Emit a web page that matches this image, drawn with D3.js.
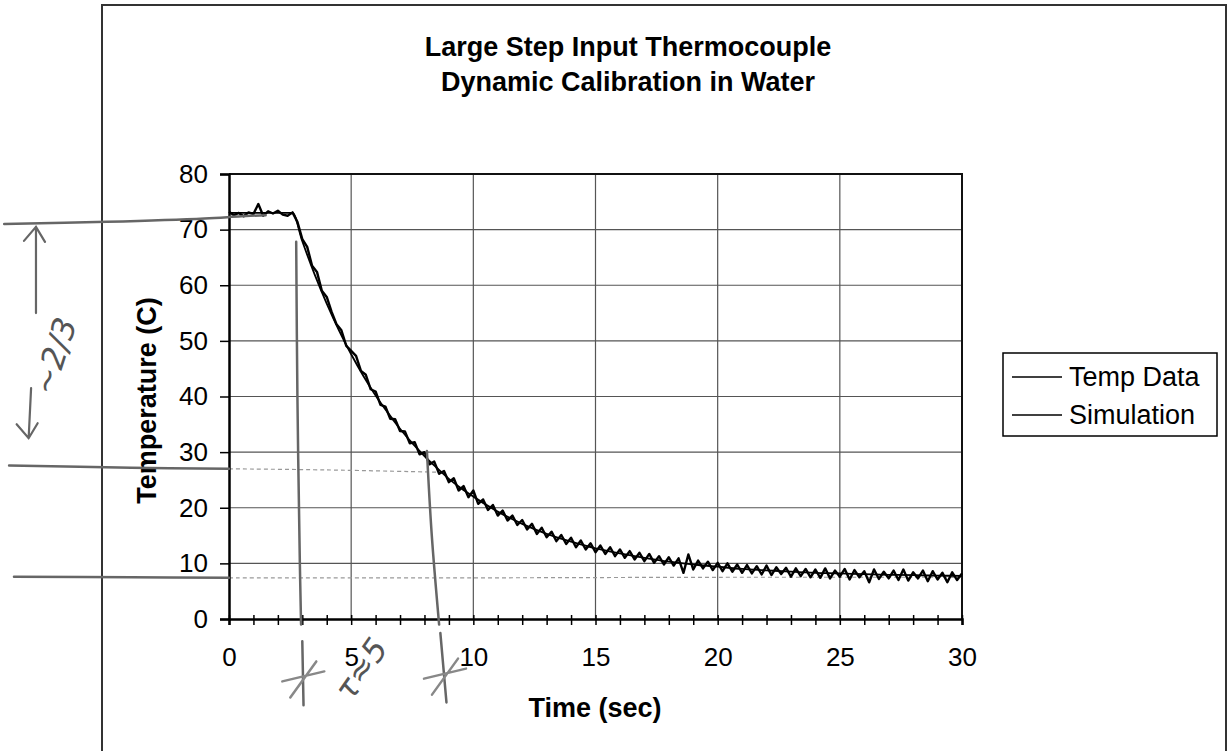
<!DOCTYPE html>
<html>
<head>
<meta charset="utf-8">
<script src="https://cdnjs.cloudflare.com/ajax/libs/d3/7.8.5/d3.min.js"></script>
<style>
  body { margin: 0; background: #fff; }
  svg { display: block; font-family: Arial, "Liberation Sans", sans-serif; }
</style>
</head>
<body>
<div id="chart"></div>
<script>
//Chart text and ticks
let titleLines = ["Large Step Input Thermocouple", "Dynamic Calibration in Water"];
let xLabel = "Time (sec)";
let yLabel = "Temperature (C)";
let xTicks = [0, 5, 10, 15, 20, 25, 30];
let yTicks = [0, 10, 20, 30, 40, 50, 60, 70, 80];
let seriesNames = ["Temp Data", "Simulation"];

//Measured temperature, one sample every 0.2 s from t = 0
let sampleStep = 0.2;
let tempData = [
  73.2, 72.6, 73.0, 72.4, 73.1, 72.8, 74.6, 72.5, 73.3, 72.9,
  73.4, 72.7, 72.5, 73.1, 71.4, 68.3, 66.9, 63.5, 62.4, 59.0,
  57.9, 55.2, 53.0, 51.9, 49.1, 48.2, 47.3, 44.6, 43.9, 41.3,
  40.9, 38.5, 38.2, 36.0, 35.9, 33.8, 33.7, 31.6, 31.8, 29.6,
  30.0, 27.8, 28.3, 26.1, 26.6, 24.6, 25.3, 23.1, 23.9, 21.9,
  23.1, 20.7, 21.5, 19.6, 20.5, 18.6, 19.5, 17.7, 18.6, 16.9,
  17.8, 16.1, 17.1, 15.3, 16.4, 14.7, 15.7, 14.0, 15.1, 13.5,
  14.6, 12.9, 14.1, 12.5, 13.6, 12.0, 13.2, 11.7, 12.9, 11.3,
  12.5, 11.0, 12.2, 10.7, 11.9, 10.4, 11.7, 10.1, 11.3, 9.8,
  11.1, 9.6, 10.9, 8.3, 11.6, 8.9, 10.5, 9.1, 10.3, 8.8,
  10.1, 8.6, 10.0, 8.5, 9.8, 8.3, 9.7, 8.2, 9.5, 8.0,
  9.6, 7.9, 9.3, 8.1, 9.2, 7.6, 9.1, 7.7, 9.0, 7.5,
  8.9, 7.4, 9.1, 7.3, 8.7, 7.6, 9.0, 7.1, 8.8, 7.5,
  8.6, 6.6, 8.9, 7.2, 8.5, 7.3, 8.7, 7.0, 8.9, 6.9,
  8.4, 7.3, 8.7, 6.8, 8.6, 7.1, 8.3, 6.6, 8.4, 7.0,
  8.2
];

//Simulated first order response
let simTime = [0, 1, 2, 2.6, 3.0, 3.5, 4.0, 4.5, 5.0, 5.5, 6.0, 6.5, 7.0, 7.5, 8.0, 8.5, 9.0, 9.5, 10,
  11, 12, 13, 14, 15, 16, 17, 18, 19, 20, 21, 22, 23, 24, 25, 26, 27, 28, 29, 30];
let simTemp = [73, 73, 73, 73, 67.9, 62.0, 56.7, 51.9, 47.6, 43.7, 40.2, 37.1, 34.2, 31.6, 29.3, 27.2, 25.2, 23.5, 22.0,
  19.3, 17.1, 15.3, 13.9, 12.7, 11.8, 11.0, 10.3, 9.8, 9.4, 9.0, 8.75, 8.5, 8.3, 8.2, 8.05, 7.95, 7.87, 7.8, 7.75];

//Pencil marks on the scan, in chart units [time, temperature]
let pencilLines = [
  [[-9.2, 71.0], [-5, 71.4], [-1, 72.0], [0.5, 72.4], [1.5, 72.6]],
  [[-9.0, 27.6], [-4, 27.2], [0, 27.0]],
  [[-8.8, 7.6], [-4, 7.5], [0, 7.4]],
  [[2.75, 67.8], [2.8, 40], [2.9, 10], [2.95, -1]],
  [[3.0, -4], [3.05, -15.5]],
  [[8.1, 30.2], [8.3, 15], [8.6, -1]],
  [[8.65, -2.5], [8.9, -15]]
];
let faintLines = [
  [[0, 27.0], [4, 26.8], [8.5, 26.4]],
  [[0, 7.4], [10, 7.4], [20, 7.5], [30, 7.5]]
];
let pencilCrosses = [[3.0, -10.5], [8.8, -10.0]];
let pencilArrows = [
  [[-7.9, 55.0], [-7.9, 70.5]],
  [[-8.1, 41.5], [-8.2, 32.5]]
];

//Canvas and plot area
let width = 1227, height = 751;
let plot = {left: 229, right: 962, top: 174, bottom: 619};

let svg = d3.select("#chart").append("svg")
  .attr("width", width)
  .attr("height", height);

let x = d3.scaleLinear().domain([0, 30]).range([plot.left, plot.right]);
let y = d3.scaleLinear().domain([0, 80]).range([plot.bottom, plot.top]);

//Outer chart frame
svg.append("rect")
  .attr("x", 102).attr("y", 5)
  .attr("width", 1124).attr("height", 780)
  .attr("fill", "none")
  .attr("stroke", "#333")
  .attr("stroke-width", 2);

//Title
svg.append("text")
  .attr("x", 628).attr("y", 56)
  .attr("text-anchor", "middle")
  .attr("font-size", 27).attr("font-weight", "bold")
  .selectAll("tspan")
  .data(titleLines)
  .enter()
  .append("tspan")
    .attr("x", 628)
    .attr("dy", function(d, i) { return i == 0 ? 0 : 35; })
    .text(function(d) { return d; });

//Gridlines
svg.selectAll(".vgrid")
  .data(xTicks.slice(1, -1))
  .enter()
  .append("line")
    .attr("class", "vgrid")
    .attr("x1", function(d) { return x(d); }).attr("x2", function(d) { return x(d); })
    .attr("y1", plot.top).attr("y2", plot.bottom)
    .attr("stroke", "#555").attr("stroke-width", 1.2);

svg.selectAll(".hgrid")
  .data(yTicks.slice(1, -1))
  .enter()
  .append("line")
    .attr("class", "hgrid")
    .attr("x1", plot.left).attr("x2", plot.right)
    .attr("y1", function(d) { return y(d); }).attr("y2", function(d) { return y(d); })
    .attr("stroke", "#555").attr("stroke-width", 1.2);

//Top and right border of plot area
svg.append("path")
  .attr("d", "M" + plot.left + "," + plot.top + "H" + plot.right + "V" + plot.bottom)
  .attr("fill", "none")
  .attr("stroke", "#111")
  .attr("stroke-width", 2);

//Faint pencil lines under the data
let pencil = d3.line()
  .x(function(d) { return x(d[0]); })
  .y(function(d) { return y(d[1]); })
  .curve(d3.curveCatmullRom);

svg.selectAll(".faint")
  .data(faintLines)
  .enter()
  .append("path")
    .attr("class", "faint")
    .attr("d", pencil)
    .attr("fill", "none")
    .attr("stroke", "#999")
    .attr("stroke-width", 1.2)
    .attr("stroke-dasharray", "4,3");

//Y axis
let yAxis = svg.append("g")
  .attr("transform", "translate(" + plot.left + ",0)")
  .call(d3.axisLeft(y).tickValues(yTicks).tickSize(9).tickPadding(12));
yAxis.select(".domain").attr("stroke", "#000").attr("stroke-width", 2.5);
yAxis.selectAll(".tick line").attr("stroke", "#000").attr("stroke-width", 1.5);
yAxis.selectAll(".tick text")
  .attr("font-size", 26)
  .attr("font-family", "Arial, 'Liberation Sans', sans-serif")
  .attr("fill", "#000");

//X axis: one small cross tick per second
let xMinor = svg.append("g")
  .attr("transform", "translate(0," + plot.bottom + ")")
  .call(d3.axisBottom(x).tickValues(d3.range(0, 31, 1)).tickSize(6).tickFormat(""));
xMinor.select(".domain").attr("stroke", "#000").attr("stroke-width", 2.5);
xMinor.selectAll(".tick line").attr("y1", -4).attr("stroke", "#000").attr("stroke-width", 1.5);

let xAxis = svg.append("g")
  .attr("transform", "translate(0," + plot.bottom + ")")
  .call(d3.axisBottom(x).tickValues(xTicks).tickSize(0).tickPadding(29));
xAxis.select(".domain").remove();
xAxis.selectAll(".tick text")
  .attr("font-size", 26)
  .attr("font-family", "Arial, 'Liberation Sans', sans-serif")
  .attr("fill", "#000");

//Axis titles
svg.append("text")
  .attr("x", 595).attr("y", 717)
  .attr("text-anchor", "middle")
  .attr("font-size", 27).attr("font-weight", "bold")
  .text(xLabel);

svg.append("text")
  .attr("transform", "translate(156," + ((plot.top + plot.bottom) / 2 + 4) + ") rotate(-90)")
  .attr("text-anchor", "middle")
  .attr("font-size", 27).attr("font-weight", "bold")
  .text(yLabel);

//Data lines
let tempLine = d3.line()
  .x(function(d, i) { return x(i * sampleStep); })
  .y(function(d) { return y(d); });

svg.append("path")
  .datum(tempData)
  .attr("d", tempLine)
  .attr("fill", "none")
  .attr("stroke", "#000")
  .attr("stroke-width", 2.4)
  .attr("stroke-linejoin", "round");

let simLine = d3.line()
  .x(function(d, i) { return x(simTime[i]); })
  .y(function(d) { return y(d); })
  .curve(d3.curveMonotoneX);

svg.append("path")
  .datum(simTemp)
  .attr("d", simLine)
  .attr("fill", "none")
  .attr("stroke", "#000")
  .attr("stroke-width", 1.8);

//Legend
let legend = svg.append("g").attr("transform", "translate(1003,353)");
legend.append("rect")
  .attr("width", 214).attr("height", 83)
  .attr("fill", "#fff")
  .attr("stroke", "#000").attr("stroke-width", 1.5);

let legendItem = legend.selectAll(".item")
  .data(seriesNames)
  .enter()
  .append("g")
    .attr("class", "item")
    .attr("transform", function(d, i) { return "translate(0," + (24 + i * 38) + ")"; });

legendItem.append("line")
  .attr("x1", 9).attr("x2", 59)
  .attr("stroke", "#000").attr("stroke-width", 1.6);

legendItem.append("text")
  .attr("x", 66).attr("y", 9)
  .attr("font-size", 27)
  .text(function(d) { return d; });

//Pencil marks over the chart
svg.selectAll(".pencil")
  .data(pencilLines)
  .enter()
  .append("path")
    .attr("class", "pencil")
    .attr("d", pencil)
    .attr("fill", "none")
    .attr("stroke", "#666")
    .attr("stroke-width", 2.5)
    .attr("stroke-linecap", "round");

svg.selectAll(".arrow")
  .data(pencilArrows)
  .enter()
  .append("path")
    .attr("class", "arrow")
    .attr("d", function(d) {
      let x0 = x(d[0][0]), y0 = y(d[0][1]), x1 = x(d[1][0]), y1 = y(d[1][1]);
      let dir = y1 < y0 ? 1 : -1;
      return "M" + x0 + "," + y0 + "L" + x1 + "," + y1
        + "M" + (x1 - 12) + "," + (y1 + dir * 14) + "L" + x1 + "," + y1 + "L" + (x1 + 9) + "," + (y1 + dir * 15);
    })
    .attr("fill", "none")
    .attr("stroke", "#666")
    .attr("stroke-width", 2.2)
    .attr("stroke-linecap", "round");

svg.selectAll(".cross")
  .data(pencilCrosses)
  .enter()
  .append("path")
    .attr("class", "cross")
    .attr("d", function(d) {
      let cx = x(d[0]), cy = y(d[1]);
      return "M" + (cx - 20) + "," + (cy + 4) + "L" + (cx + 22) + "," + (cy - 6)
        + "M" + (cx - 12) + "," + (cy + 20) + "L" + (cx + 14) + "," + (cy - 16);
    })
    .attr("fill", "none")
    .attr("stroke", "#888")
    .attr("stroke-width", 2.5)
    .attr("stroke-linecap", "round");

svg.append("text")
  .attr("transform", "translate(" + x(-7.2) + "," + y(40) + ") rotate(-72)")
  .attr("font-family", "DejaVu Sans")
  .attr("font-style", "italic")
  .attr("font-size", 32)
  .attr("fill", "#555")
  .text("~2/3");

svg.append("text")
  .attr("transform", "translate(" + x(5.0) + "," + y(-15) + ") rotate(-55)")
  .attr("font-family", "DejaVu Sans")
  .attr("font-style", "italic")
  .attr("font-size", 32)
  .attr("fill", "#555")
  .text("τ≈5");
</script>
</body>
</html>
